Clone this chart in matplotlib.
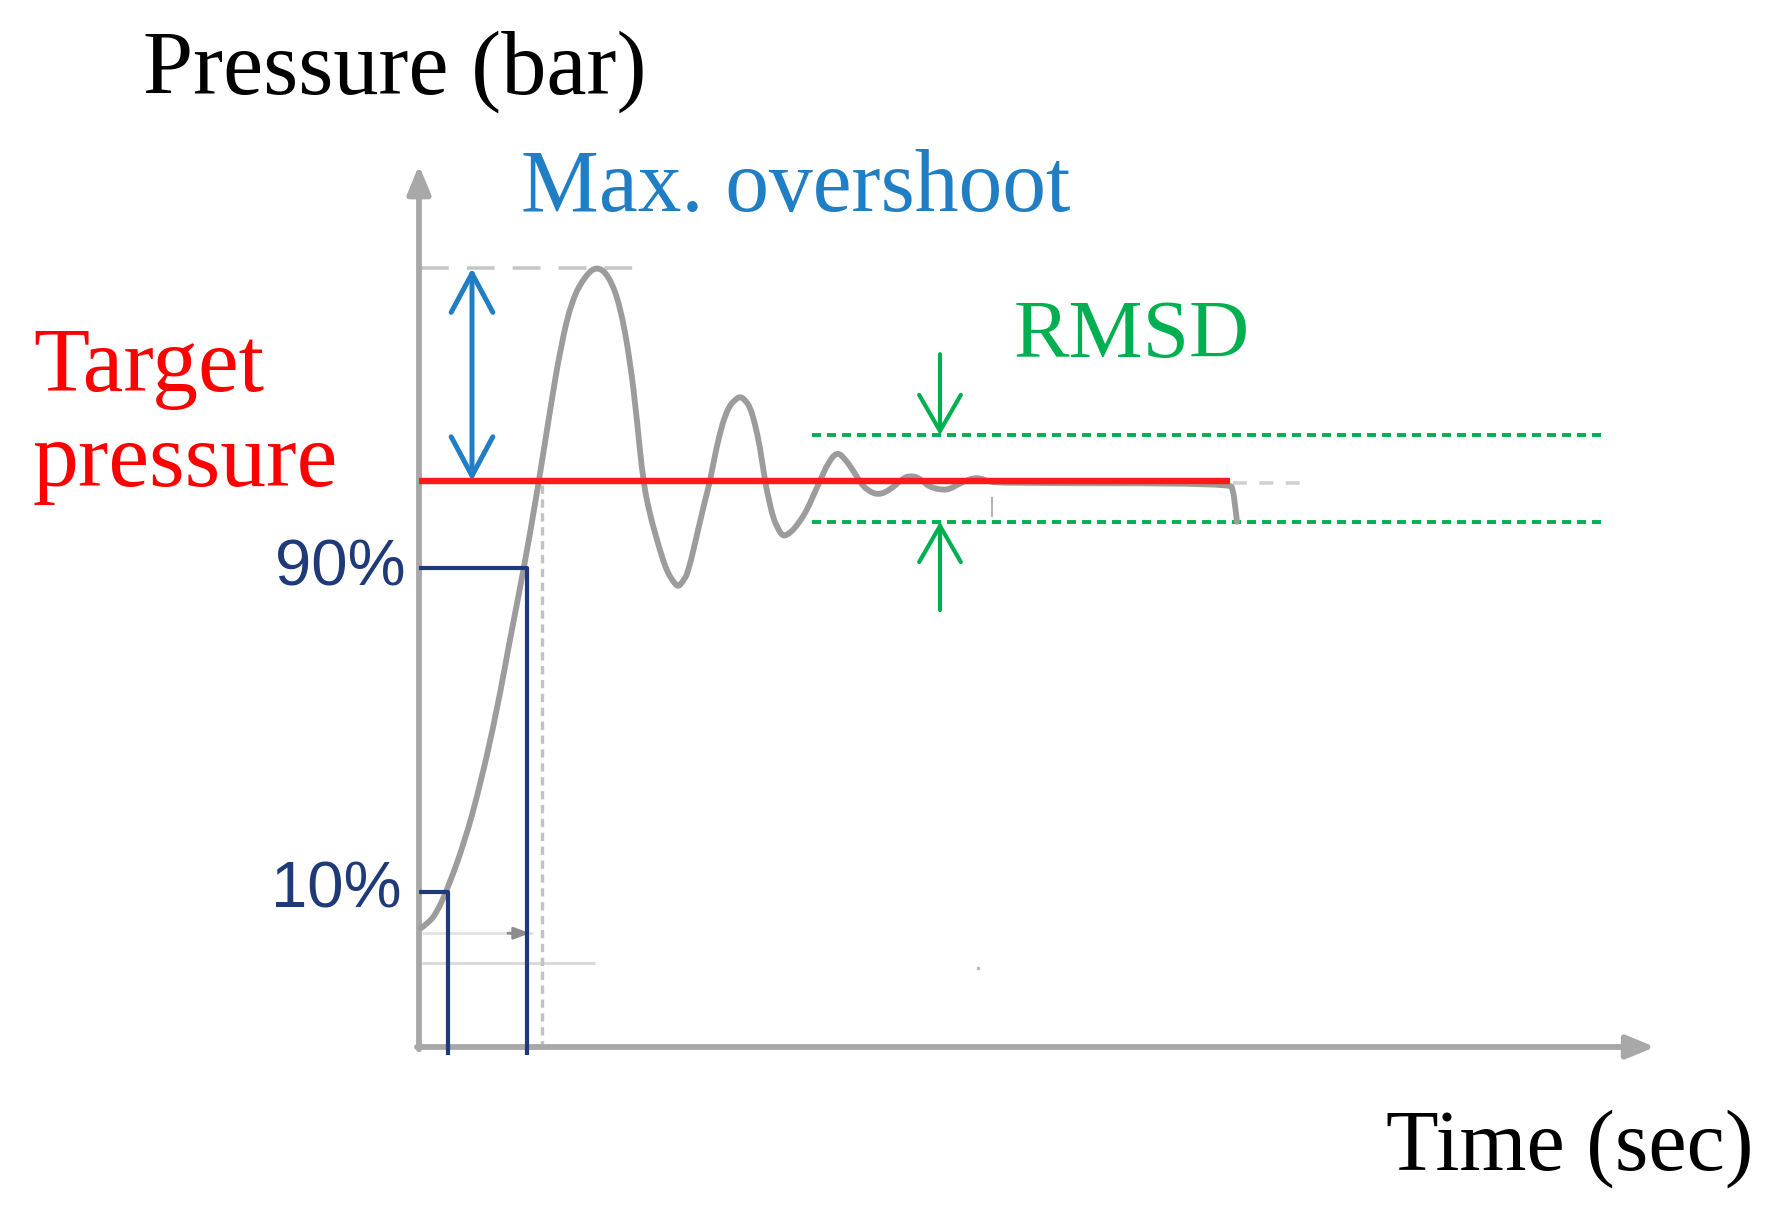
import numpy as np
import matplotlib
matplotlib.use("Agg")
import matplotlib.pyplot as plt
from matplotlib.path import Path
from matplotlib.patches import PathPatch

plt.rcParams['lines.scale_dashes'] = False
plt.rcParams['lines.solid_capstyle'] = 'butt'

# ---- data (normalised: target pressure = 1.0, time in arbitrary units) ----
time_s = [0.02, 0.09, 0.17, 0.28, 0.45, 0.61, 0.78, 0.91, 1.05, 1.20, 1.31, 1.42,
          1.53, 1.66, 1.78, 1.90, 2.01, 2.11, 2.18, 2.24, 2.31, 2.38, 2.44, 2.49,
          2.54, 2.59, 2.64, 2.69, 2.79, 2.85, 2.91, 2.96, 3.01, 3.06, 3.11, 3.16,
          3.21, 3.26, 3.31, 3.36, 3.41, 3.46, 3.50, 3.54, 3.59, 3.64, 3.69, 3.74,
          3.81, 3.88, 3.94, 4.01, 4.09, 4.18, 4.26, 4.34, 4.41, 4.48, 4.59, 4.71,
          4.84, 4.91, 4.98, 5.05, 5.11, 5.24, 5.31, 5.38, 5.46, 5.54, 5.61, 5.68,
          5.81, 8.11, 8.14, 8.16, 8.18]
pressure = [0.210, 0.219, 0.235, 0.277, 0.359, 0.461, 0.595, 0.721, 0.846, 1.000,
            1.125, 1.240, 1.320, 1.362, 1.380, 1.362, 1.311, 1.214, 1.108, 1.000,
            0.940, 0.896, 0.860, 0.837, 0.823, 0.812, 0.823, 0.837, 0.913, 0.958,
            1.000, 1.046, 1.085, 1.115, 1.134, 1.143, 1.150, 1.143, 1.131, 1.101,
            1.060, 1.000, 0.966, 0.936, 0.915, 0.902, 0.906, 0.913, 0.929, 0.949,
            0.973, 1.000, 1.032, 1.052, 1.039, 1.019, 0.998, 0.984, 0.975, 0.984,
            1.005, 1.009, 1.007, 0.998, 0.989, 0.984, 0.986, 0.993, 1.000, 1.005,
            1.005, 1.000, 0.996, 0.996, 0.984, 0.958, 0.928]

target = 1.0
t_target_end = 8.11
t_target_dash = [8.14, 8.93]
peak = 1.376
t_peak_dash_end = 2.28
level_90 = 0.846
t_90 = 1.08
level_10 = 0.274
t_10 = 0.29
t_rise_dash = 1.23
rmsd_band = [1.081, 0.928]
t_rmsd = [3.93, 11.84]
t_rmsd_arrow = 5.21
rmsd_arrow_tails = [1.224, 0.772]
t_overshoot_arrow = 0.53
faint_levels = [0.201, 0.148]
faint_ends = [1.14, 1.76]
t_axis_end = 12.36
p_axis_end = 1.558

labels = {
    'ylabel': 'Pressure (bar)',
    'xlabel': 'Time (sec)',
    'overshoot': 'Max. overshoot',
    'rmsd': 'RMSD',
    'target': ['Target', 'pressure'],
    'p90': '90%',
    'p10': '10%',
}

GRAY = '#9C9C9C'
AXIS = '#A8A8A8'
RED = '#FF1A1A'
BLUE = '#1F7EC4'
GREEN = '#00B050'
NAVY = '#1F3A78'

W, H = 1780, 1212
fig = plt.figure(figsize=(W / 100, H / 100), dpi=100)
ax = fig.add_axes([0, 0, 1, 1])
ax.set_xlim(-4.19, 13.61)
ax.set_ylim(-0.2915, 1.8498)
ax.axis('off')

# axes with arrows
ax.annotate('', xy=(0, p_axis_end), xytext=(0, -0.004),
            arrowprops=dict(arrowstyle='-|>,head_length=0.85,head_width=0.35',
                            mutation_scale=20, lw=4.2, color=AXIS, fc=AXIS,
                            shrinkA=0, shrinkB=0))
ax.annotate('', xy=(t_axis_end, 0), xytext=(-0.02, 0),
            arrowprops=dict(arrowstyle='-|>,head_length=0.85,head_width=0.35',
                            mutation_scale=20, lw=4.2, color=AXIS, fc=AXIS,
                            shrinkA=0, shrinkB=0))

# faint helper lines near bottom
ax.plot([0.03, faint_ends[0]], [faint_levels[0]] * 2, color='#E2E2E2', lw=2)
ax.plot([0.03, faint_ends[1]], [faint_levels[1]] * 2, color='#DADADA', lw=2.2)
ax.annotate('', xy=(faint_ends[0] - 0.03, faint_levels[0]), xytext=(0.89, faint_levels[0]),
            arrowprops=dict(arrowstyle='-|>,head_length=0.8,head_width=0.3',
                            mutation_scale=12, lw=2, color='#8C8C8C', shrinkA=0, shrinkB=0))
ax.plot([5.59], [0.140], 's', ms=2, color='#BBBBBB')

# dashed guides
ax.plot([0.02, t_peak_dash_end], [peak, peak], color='#C6C6C6', lw=2.6, dashes=(20, 13))
ax.plot([t_rise_dash, t_rise_dash], [0.993, 0.0], color='#C2C2C2', lw=2.4, dashes=(6, 4))
ax.plot(t_target_dash, [0.996, 0.996], color='#D0D0D0', lw=2.6, dashes=(10, 9))
ax.plot([5.73, 5.73], [0.972, 0.936], color='#B5B5B5', lw=1.5)

# RMSD band
for lvl in rmsd_band:
    ax.plot(t_rmsd, [lvl, lvl], color=GREEN, lw=2.8, dashes=(6.5, 4.3))

# response curve, drawn as a quadratic B-spline through the read points
pts = np.column_stack([time_s, pressure])
verts = [pts[0]]
codes = [Path.MOVETO]
for i in range(1, len(pts) - 1):
    verts += [pts[i], (pts[i] + pts[i + 1]) / 2]
    codes += [Path.CURVE3, Path.CURVE3]
verts.append(pts[-1])
codes.append(Path.LINETO)
ax.add_patch(PathPatch(Path(verts, codes), fill=False, edgecolor=GRAY, lw=4.2,
                       capstyle='round', joinstyle='round', zorder=3))

# target line
ax.plot([0.0, t_target_end], [target, target], color=RED, lw=4.6, zorder=4)

# 10% / 90% markers
ax.plot([0.0, t_90, t_90], [level_90, level_90, -0.014], color=NAVY, lw=3.0, zorder=4)
ax.plot([0.0, t_10, t_10], [level_10, level_10, -0.014], color=NAVY, lw=3.0, zorder=4)

# overshoot double arrow
ax.annotate('', xy=(t_overshoot_arrow, peak), xytext=(t_overshoot_arrow, target),
            arrowprops=dict(arrowstyle='<->,head_length=1.4,head_width=0.75',
                            mutation_scale=20, lw=3.6, color=BLUE,
                            shrinkA=0, shrinkB=0), zorder=5)

# RMSD arrows
for lvl, tail in zip(rmsd_band, rmsd_arrow_tails):
    ax.annotate('', xy=(t_rmsd_arrow, lvl), xytext=(t_rmsd_arrow, tail),
                arrowprops=dict(arrowstyle='->,head_length=1.3,head_width=0.75',
                                mutation_scale=20, lw=3.0, color=GREEN,
                                shrinkA=0, shrinkB=0), zorder=5)

# text
serif = ['Liberation Serif', 'DejaVu Serif']
sans = ['Liberation Sans', 'DejaVu Sans']


def put(px, py, s, **kw):
    fig.text(px / W, 1 - py / H, s, va='baseline', ha='left', **kw)


put(143, 94, labels['ylabel'], family=serif, fontsize=65, color='black')
put(1386, 1169, labels['xlabel'], family=serif, fontsize=62, color='black')
put(521, 211, labels['overshoot'], family=serif, fontsize=63, color=BLUE)
put(1014, 357, labels['rmsd'], family=serif, fontsize=60, color=GREEN)
put(33, 391, labels['target'][0], family=serif, fontsize=66, color='#FF0000')
put(33, 486, labels['target'][1], family=serif, fontsize=66, color='#FF0000')
put(275, 585, labels['p90'], family=sans, fontsize=47, color=NAVY)
put(271, 908, labels['p10'], family=sans, fontsize=47, color=NAVY)

fig.savefig('out.png', dpi=100, facecolor='white')
